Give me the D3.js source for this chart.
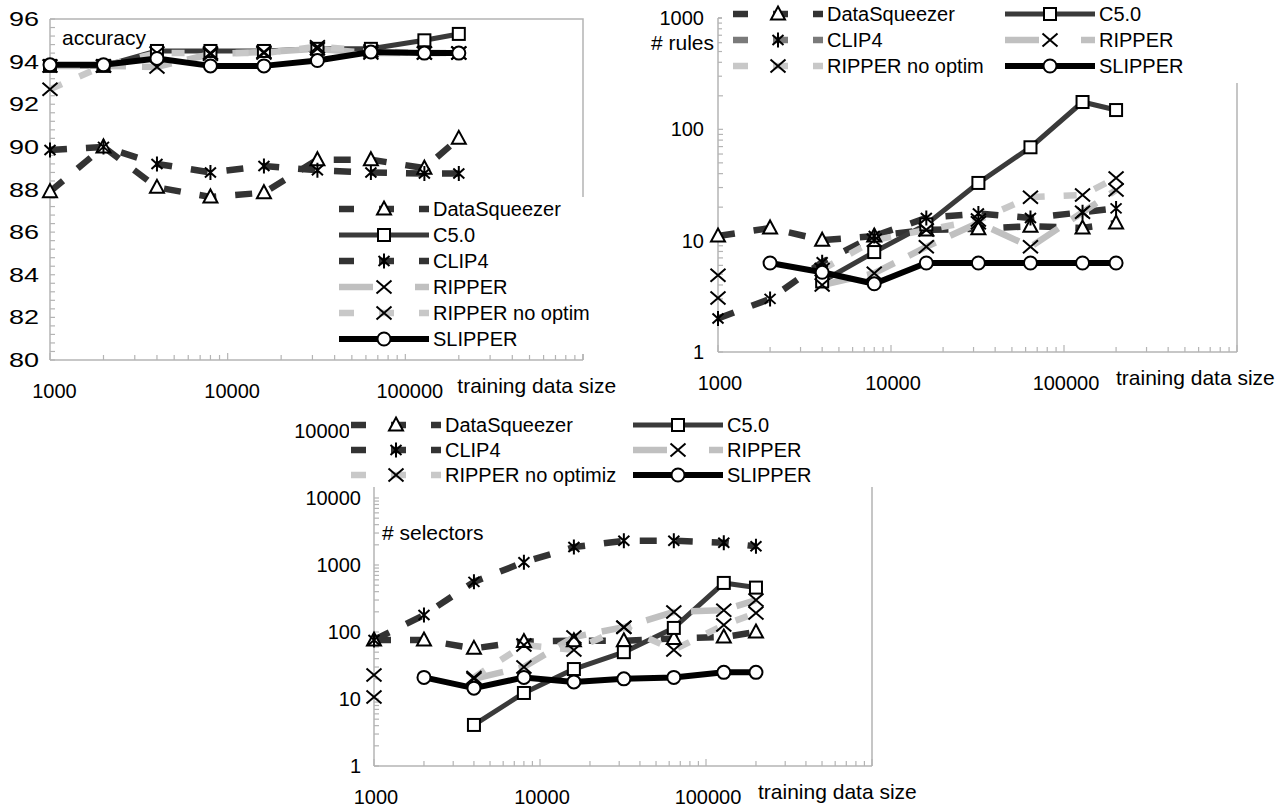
<!DOCTYPE html>
<html>
<head>
<meta charset="utf-8">
<script src="https://cdn.jsdelivr.net/npm/d3@7"></script>
<style>
  html, body { margin: 0; padding: 0; background: #fff; }
  svg text { font-family: "Liberation Sans", Arial, Helvetica, sans-serif; fill: #000; }
</style>
</head>
<body>
<svg id="chart" width="1286" height="810"></svg>
<script>
// ---- data ----
const sizes = [1000, 2000, 4000, 8000, 16000, 32000, 64000, 128000, 200000];
const seriesNames = ["DataSqueezer", "C5.0", "CLIP4", "RIPPER", "RIPPER no optim", "SLIPPER"];

// accuracy [%]
const accDataSqueezer = [87.9, 90.0, 88.1, 87.65, 87.85, 89.4, 89.4, 89.0, 90.4];
const accC50          = [93.8, 93.8, 94.5, 94.5, 94.5, 94.6, 94.6, 95.0, 95.3];
const accCLIP4        = [89.85, 90.0, 89.2, 88.8, 89.1, 88.9, 88.8, 88.75, 88.75];
const accRIPPER       = [93.8, 93.8, 93.75, 94.35, 94.45, 94.6, 94.4, 94.4, 94.4];
const accRIPPERnoOpt  = [92.7, 93.8, 94.4, 94.4, 94.4, 94.7, 94.5, 94.4, 94.4];
const accSLIPPER      = [93.85, 93.85, 94.15, 93.8, 93.8, 94.05, 94.45, 94.4, 94.4];

// number of rules
const rulesDataSqueezer = [11.0, 13.0, 10.1, 11.0, 12.5, 12.8, 13.5, 13.0, 14.4];
const rulesC50          = [null, null, 4.3, 7.9, 14, 33, 69, 176, 149];
const rulesCLIP4        = [2.0, 3.0, 6.4, 11, 16, 17.5, 16, 18, 19.5];
const rulesRIPPER       = [4.9, null, 4.0, 5.1, 8.8, 14.5, 8.8, 18, 28.5];
const rulesRIPPERnoOpt  = [3.06, null, 5.5, 10.1, 12.5, 15.3, 24.6, 25.7, 36.6];
const rulesSLIPPER      = [null, 6.3, 5.2, 4.1, 6.3, 6.3, 6.3, 6.3, 6.3];

// number of selectors
const selDataSqueezer = [76, 76, 57, 72, 74, 74, 80, 84, 100];
const selC50          = [null, null, 4.1, 12.3, 28, 50, 115, 540, 460];
const selCLIP4        = [76, 179, 560, 1100, 1850, 2300, 2300, 2150, 1900];
const selRIPPER       = [22.8, null, 20, 30, 84, 118, 199, 212, 300];
const selRIPPERnoOpt  = [10.7, null, 21, 64, 54, 118, 54, 127, 192];
const selSLIPPER      = [null, 21, 14.5, 21, 18, 20, 21, 25, 25];

// tick labels
const xTickLabels = [1000, 10000, 100000];
const accTicks = [80, 82, 84, 86, 88, 90, 92, 94, 96];
const rulesTicks = [1, 10, 100, 1000];
const selTicks = [1, 10, 100, 1000, 10000, 100000];

// ---- styles ----
const styles = {
  "DataSqueezer":    { color: "#333333", width: 6.5, dash: "17,19", legendDash: "15,25", marker: "triangle" },
  "C5.0":            { color: "#3a3a3a", width: 5,   dash: null,    legendDash: null,    marker: "square" },
  "CLIP4":           { color: "#333333", width: 6.5, dash: "17,19", legendDash: "15,25", marker: "star" },
  "RIPPER":          { color: "#c0c0c0", width: 6.5, dash: "30,16", legendDash: "34,42", marker: "x" },
  "RIPPER no optim": { color: "#c8c8c8", width: 6.5, dash: "13,19", legendDash: "15,25", marker: "x" },
  "SLIPPER":         { color: "#000000", width: 6,   dash: null,    legendDash: null,    marker: "circle" }
};
const lineOrder = ["DataSqueezer", "CLIP4", "C5.0", "RIPPER", "RIPPER no optim", "SLIPPER"];
const AXIS = "#b4b4b4";

const svg = d3.select("#chart");

function drawMarker(g, type, cx, cy) {
  const m = g.append("g").attr("transform", `translate(${cx},${cy})`)
    .attr("stroke", "#000").attr("stroke-width", 2).attr("fill", "#fff");
  if (type === "triangle") {
    m.append("path").attr("d", "M0,-7.5L7,5.5L-7,5.5Z");
  } else if (type === "square") {
    m.append("rect").attr("x", -6).attr("y", -6).attr("width", 12).attr("height", 12);
  } else if (type === "circle") {
    m.append("circle").attr("r", 6.5);
  } else if (type === "x") {
    m.append("path").attr("d", "M-7.5,-6.5L7.5,6.5M-7.5,6.5L7.5,-6.5").attr("fill", "none");
  } else if (type === "star") {
    m.append("path").attr("d", "M0,-7.5V7.5M-5.5,-5L5.5,5M-5.5,5L5.5,-5").attr("fill", "none");
  }
}

function drawPanel(p) {
  const g = svg.append("g");
  const x = d3.scaleLog().domain([1000, 1e6]).range([p.left, p.right]);
  const y = (p.yLog ? d3.scaleLog() : d3.scaleLinear()).domain(p.yDomain).range([p.bottom, p.top]);

  // frame: top and right edges
  g.append("path")
    .attr("d", `M${p.left},${p.top}H${p.right}V${p.bottom}`)
    .attr("fill", "none").attr("stroke", AXIS).attr("stroke-width", 1.5);

  // x axis with inward log ticks
  const xAxis = g.append("g");
  xAxis.append("line").attr("x1", p.left).attr("x2", p.right)
    .attr("y1", p.bottom).attr("y2", p.bottom).attr("stroke", AXIS).attr("stroke-width", 1.5);
  const xMinor = [];
  [1000, 10000, 100000].forEach(d => { for (let k = 1; k <= 9; k++) xMinor.push(d * k); });
  xMinor.push(1e6);
  xAxis.selectAll("line.t").data(xMinor).join("line").attr("class", "t")
    .attr("x1", d => x(d)).attr("x2", d => x(d))
    .attr("y1", p.bottom).attr("y2", d => p.bottom - (Math.log10(d) % 1 === 0 ? 7 : 5))
    .attr("stroke", AXIS).attr("stroke-width", 1.2);
  xAxis.selectAll("text").data(xTickLabels).join("text")
    .attr("x", d => x(d) + p.xLabelShift).attr("y", p.bottom + 38)
    .attr("text-anchor", "middle").attr("font-size", 20).text(d => d);
  g.append("text").attr("x", x(100000) + 52).attr("y", p.bottom + 33)
    .attr("font-size", 21).text("training data size");

  // y axis
  const yAxis = g.append("g");
  yAxis.append("line").attr("x1", p.left).attr("x2", p.left)
    .attr("y1", p.top).attr("y2", p.bottom).attr("stroke", AXIS).attr("stroke-width", 1.5);
  let yMinor = [];
  if (p.yLog) {
    const [lo, hi] = p.yDomain;
    for (let d = lo; d < hi; d *= 10) for (let k = 1; k <= 9; k++) yMinor.push(d * k);
    yMinor.push(hi);
  } else {
    for (let v = p.yDomain[0]; v <= p.yDomain[1] + 1e-9; v += 0.4) yMinor.push(+v.toFixed(1));
  }
  yAxis.selectAll("line.t").data(yMinor).join("line").attr("class", "t")
    .attr("x1", p.left).attr("x2", p.left + 5)
    .attr("y1", d => y(d)).attr("y2", d => y(d))
    .attr("stroke", AXIS).attr("stroke-width", 1.2);
  yAxis.selectAll("text").data(p.yTicks).join("text")
    .attr("transform", d => `translate(${p.yLabelRight},${y(d)}) scale(${p.yLabelStretch},1)`)
    .attr("dy", "0.35em").attr("text-anchor", "end").attr("font-size", 20).text(d => d);

  // y title placed inside the chart corner
  g.append("text").attr("x", p.title.x).attr("y", p.title.y)
    .attr("text-anchor", p.title.anchor).attr("font-size", 21).text(p.title.text);

  // series lines
  const line = d3.line()
    .defined(d => d.v != null)
    .x(d => x(d.s)).y(d => y(d.v));
  const lines = g.append("g").attr("fill", "none").attr("stroke-linecap", "butt").attr("stroke-linejoin", "round");
  lineOrder.forEach(name => {
    const st = styles[name];
    const pts = sizes.map((s, i) => ({ s, v: p.data[name][i] }));
    lines.append("path").attr("d", line(pts))
      .attr("stroke", st.color).attr("stroke-width", st.width)
      .attr("stroke-dasharray", st.dash);
  });
  // markers
  const marks = g.append("g");
  seriesNames.forEach(name => {
    const st = styles[name];
    p.data[name].forEach((v, i) => {
      if (v != null) drawMarker(marks, st.marker, x(sizes[i]), y(v));
    });
  });

  // legend
  const lg = g.append("g");
  const L = p.legend;
  lg.append("rect").attr("x", L.box[0]).attr("y", L.box[1])
    .attr("width", L.box[2]).attr("height", L.box[3]).attr("fill", "#fff");
  L.entries.forEach(e => {
    const st = styles[e.name];
    lg.append("line").attr("x1", e.x).attr("x2", e.x + 90).attr("y1", e.y).attr("y2", e.y)
      .attr("stroke", e.color || st.color).attr("stroke-width", st.width)
      .attr("stroke-dasharray", st.legendDash);
    drawMarker(lg, st.marker, e.x + 45, e.y);
    lg.append("text").attr("x", e.x + 94).attr("y", e.y).attr("dy", "0.35em")
      .attr("font-size", 20).text(e.label);
  });
}

function dataMap(a, b, c, d, e, f) {
  return { "DataSqueezer": a, "C5.0": b, "CLIP4": c, "RIPPER": d, "RIPPER no optim": e, "SLIPPER": f };
}

// accuracy panel
drawPanel({
  left: 50, right: 583, top: 19, bottom: 360,
  yLog: false, yDomain: [80, 96], yTicks: accTicks,
  yLabelRight: 39, yLabelStretch: 1.35, xLabelShift: 4.5,
  title: { text: "accuracy", x: 62, y: 45, anchor: "start" },
  data: dataMap(accDataSqueezer, accC50, accCLIP4, accRIPPER, accRIPPERnoOpt, accSLIPPER),
  legend: {
    box: [333, 197, 258, 157],
    entries: seriesNames.map((n, i) => ({ name: n, label: n, x: 339, y: 209 + 26 * i }))
  }
});

// rules panel
drawPanel({
  left: 718, right: 1237, top: 18, bottom: 352,
  yLog: true, yDomain: [1, 1000], yTicks: rulesTicks,
  yLabelRight: 704, yLabelStretch: 1, xLabelShift: 2,
  title: { text: "# rules", x: 714, y: 50, anchor: "end" },
  data: dataMap(rulesDataSqueezer, rulesC50, rulesCLIP4, rulesRIPPER, rulesRIPPERnoOpt, rulesSLIPPER),
  legend: {
    box: [722, 0, 523, 83],
    entries: [
      { name: "DataSqueezer", label: "DataSqueezer", x: 733, y: 14 },
      { name: "CLIP4", label: "CLIP4", x: 733, y: 40, color: "#7a7a7a" },
      { name: "RIPPER no optim", label: "RIPPER no optim", x: 733, y: 66 },
      { name: "C5.0", label: "C5.0", x: 1005, y: 14 },
      { name: "RIPPER", label: "RIPPER", x: 1005, y: 40 },
      { name: "SLIPPER", label: "SLIPPER", x: 1005, y: 66 }
    ]
  }
});

// selectors panel
drawPanel({
  left: 374, right: 872, top: 431, bottom: 766,
  yLog: true, yDomain: [1, 100000], yTicks: selTicks,
  yLabelRight: 361, yLabelStretch: 1, xLabelShift: 2,
  title: { text: "# selectors", x: 382, y: 540, anchor: "start" },
  data: dataMap(selDataSqueezer, selC50, selCLIP4, selRIPPER, selRIPPERnoOpt, selSLIPPER),
  legend: {
    box: [349, 405, 531, 82],
    entries: [
      { name: "DataSqueezer", label: "DataSqueezer", x: 351, y: 425 },
      { name: "CLIP4", label: "CLIP4", x: 351, y: 450 },
      { name: "RIPPER no optim", label: "RIPPER no optimiz", x: 351, y: 475 },
      { name: "C5.0", label: "C5.0", x: 633, y: 425 },
      { name: "RIPPER", label: "RIPPER", x: 633, y: 450 },
      { name: "SLIPPER", label: "SLIPPER", x: 633, y: 475 }
    ]
  }
});
</script>
</body>
</html>
